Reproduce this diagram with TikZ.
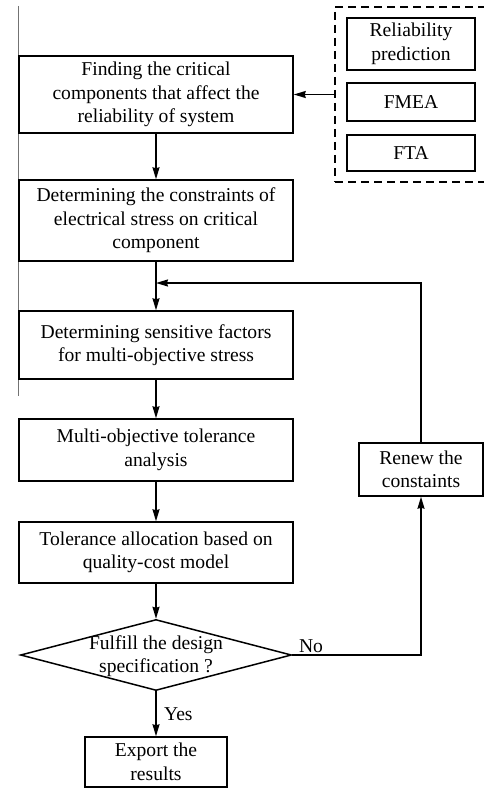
\documentclass[tikz,border=0pt]{standalone}
\usepackage{fontspec}
\setmainfont{Liberation Serif}
\usetikzlibrary{shapes.geometric,arrows.meta}
\begin{document}
\begin{tikzpicture}[x=1pt,y=-1pt,
  font=\fontsize{19.6}{23.5}\selectfont,
  box/.style={draw,line width=1.5pt,align=center,inner sep=0pt,minimum width=274pt},
  sbox/.style={draw,line width=1.5pt,align=center,inner sep=0pt,minimum width=128pt},
  conn/.style={line width=1.5pt,-{Stealth[length=12pt,width=7pt,inset=1pt]}}]
\useasboundingbox (0,0) rectangle (484,789);
\clip (0,0) rectangle (484,789);
% left edge line
\draw[black!55,line width=1.5pt] (18.5,6) -- (18.5,396);
% main boxes
\node[box,minimum height=77pt] (b1) at (156,94.5) {Finding the critical\\components that affect the\\reliability of system};
\node[box,minimum height=81pt] (b2) at (156,220.5) {Determining the constraints of\\electrical stress on critical\\component};
\node[box,minimum height=68pt] (b3) at (156,345) {Determining sensitive factors\\for multi-objective stress};
\node[box,minimum height=62pt] (b4) at (156,450) {Multi-objective tolerance\\analysis};
\node[box,minimum height=61pt] (b5) at (156,552.5) {Tolerance allocation based on\\quality-cost model};
\node[draw,diamond,line width=1.5pt,minimum width=271pt,minimum height=71pt,inner sep=0pt] (d) at (156,655) {};
\node[align=center] (dt) at (156,656) {Fulfill the design\\specification ?};
\node[box,minimum width=142pt,minimum height=50pt] (ex) at (156,762) {Export the\\results};
\node[box,minimum width=124pt,minimum height=53pt] (rn) at (421,469.5) {Renew the\\constaints};
% dashed group
\node[draw,line width=1.5pt,dash pattern=on 8pt off 5pt,minimum width=170pt,minimum height=175pt,inner sep=0pt] (grp) at (420,94.5) {};
\node[sbox,minimum height=52pt] (rp) at (411,44) {Reliability\\prediction};
\node[sbox,minimum height=38pt] (fm) at (411,102) {FMEA};
\node[sbox,minimum height=36pt] (ft) at (411,153) {FTA};
% connectors
\draw[conn] (grp.west) -- (b1.east);
\draw[conn] (b1.south) -- (b2.north);
\draw[conn] (b2.south) -- (b3.north);
\draw[conn] (b3.south) -- (b4.north);
\draw[conn] (b4.south) -- (b5.north);
\draw[conn] (b5.south) -- (d.north);
\draw[conn] (d.south) -- node[right,xshift=4pt] {Yes} (ex.north);
\draw[conn] (d.east) -- node[pos=0,above right,xshift=5pt,yshift=1pt,inner sep=1pt] {No} (d.east -| rn.south) -- (rn.south);
\coordinate (j) at (b2.south |- 0,283);
\draw[conn] (rn.north) -- (rn.north |- j) -- (j);
\end{tikzpicture}
\end{document}
